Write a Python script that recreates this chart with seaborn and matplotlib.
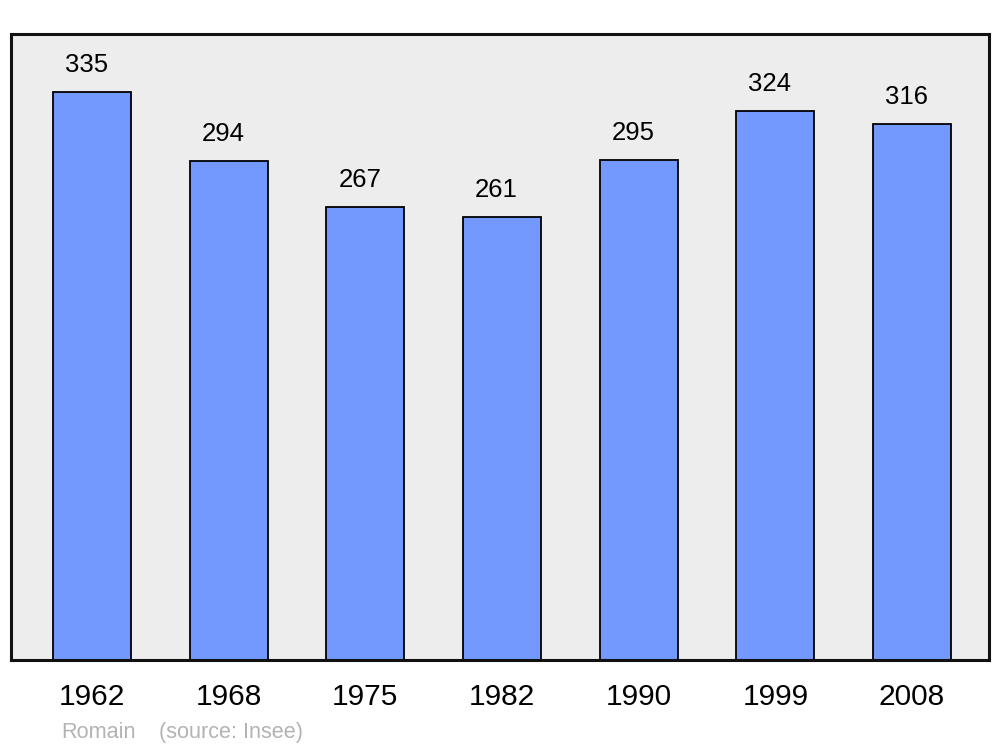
import matplotlib
matplotlib.use('Agg')
import matplotlib.pyplot as plt
import seaborn as sns
import pandas as pd

years = ['1962', '1968', '1975', '1982', '1990', '1999', '2008']
population = [335, 294, 267, 261, 295, 324, 316]

df = pd.DataFrame({'year': years, 'pop': population})

sns.set_theme(style="white")
plt.rcParams['font.family'] = ['Liberation Sans', 'DejaVu Sans']

fig = plt.figure(figsize=(10, 7.47), dpi=100)
ax = fig.add_axes([0.011, 0.1165, 0.978, 0.838])
ax.set_facecolor('#ededed')

sns.barplot(data=df, x='year', y='pop', color='#7399ff', saturation=1,
            width=0.57, edgecolor='black', linewidth=1.3, ax=ax)

# value labels, sitting a bit left of the bar centre like the original
for i, v in enumerate(population):
    ax.annotate(str(v), (i, v), xytext=(-4, 19.5), textcoords='offset points',
                ha='center', va='center', fontsize=18.5, color='black')

ax.set_xlim(-0.593, 6.563)
ax.set_ylim(0, 369.2)
ax.set_yticks([])
ax.set_xlabel('')
ax.set_ylabel('')
ax.tick_params(axis='x', length=0, pad=16.5, labelsize=21.5, colors='black')
for s in ax.spines.values():
    s.set_visible(True)
    s.set_color('#111111')
    s.set_linewidth(2.2)

fig.text(0.061, 0.0195, 'Romain', color='#b3b3b3', fontsize=15.6, va='center')
fig.text(0.159, 0.0195, '(source: Insee)', color='#b3b3b3', fontsize=15.6, va='center')

fig.savefig('out.png', dpi=100, facecolor='white')
plt.close()
